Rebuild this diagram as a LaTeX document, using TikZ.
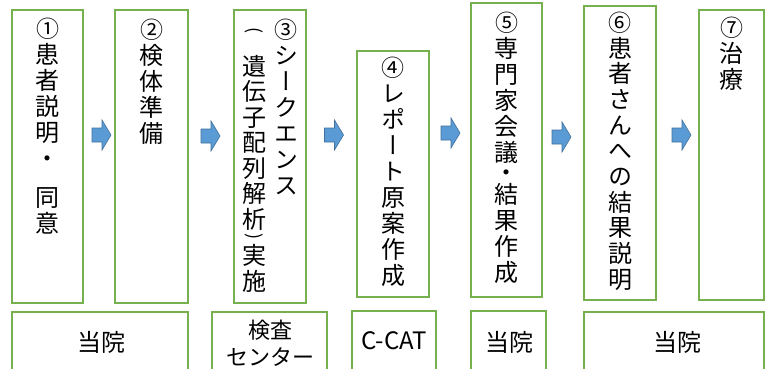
\documentclass[tikz,border=0pt]{standalone}
\usepackage{fontspec}
\newfontfamily\jp{Noto Sans CJK JP}
\newfontfamily\vjp[RawFeature=+vert]{Noto Sans CJK JP}
\definecolor{boxgreen}{HTML}{77B04F}
\definecolor{arrowblue}{HTML}{5B9BD5}
\definecolor{arrowedge}{HTML}{41719C}
\newcommand\fl{\rule{0pt}{21.1pt}}
\newcommand\cn[1]{{\fontsize{23}{23}\selectfont #1}}
\tikzset{
  stage/.style={draw=boxgreen, line width=1.2pt, fill=white, inner sep=0pt},
  place/.style={draw=boxgreen, line width=1.2pt},
  vcol/.style={anchor=north, inner sep=0pt, align=center,
    font=\vjp\fontsize{24}{26}\selectfont},
  vparen/.style={anchor=center, inner sep=0pt, rotate=-90,
    font=\jp\fontsize{18}{18}\selectfont},
  lbl/.style={anchor=center, inner sep=0pt, align=center,
    font=\jp\fontsize{24}{27}\selectfont},
  flow/.pic={\draw[fill=arrowblue, draw=arrowedge, line width=0.6pt]
    (-9.5,-7)--(0.5,-7)--(0.5,-15)--(9.5,0)--(0.5,15)--(0.5,7)--(-9.5,7)--cycle;}
}
\begin{document}
\begin{tikzpicture}[x=1pt,y=-1pt]
\useasboundingbox[fill=white] (0,0) rectangle (768,369);
% stage boxes
\node[stage, minimum width=71pt, minimum height=293pt] (b1) at (47.5,156.5) {};
\node[stage, minimum width=73pt, minimum height=293pt] (b2) at (151.5,156.5) {};
\node[stage, minimum width=72pt, minimum height=293pt] (b3) at (270,156.5) {};
\node[stage, minimum width=72pt, minimum height=246pt] (b4) at (393,174) {};
\node[stage, minimum width=71pt, minimum height=294pt] (b5) at (506.5,150) {};
\node[stage, minimum width=72pt, minimum height=294pt] (b6) at (620,153) {};
\node[stage, minimum width=65pt, minimum height=290pt] (b7) at (731.5,155) {};
% vertical texts
\node[vcol] (c1) at (47.5,16) {\fl\cn{①}\\患\\者\\説\\明\\・\\[13pt]同\\意};
\node[vcol] (c2) at (151.5,17) {\fl\cn{②}\\検\\体\\準\\備};
\node[vcol] (c3r) at (286,17) {\fl\cn{③}\\シ\\ー\\ク\\エ\\ン\\ス};
\node[vparen] (p1) at (254,31) {(};
\node[vcol, font=\vjp\fontsize{24}{25.5}\selectfont] (c3l) at (254,54)
  {\fl 遺\\伝\\子\\配\\列\\解\\析};
\node[vparen] (p2) at (254,237) {)};
\node[vcol] (c3m) at (254,243) {\fl 実\\施};
\node[vcol] (c4) at (393,55) {\fl\cn{④}\\レ\\ポ\\ー\\ト\\原\\案\\作\\成};
\node[vcol] (c5a) at (506.5,10) {\fl\cn{⑤}\\専\\門\\家\\会\\議};
\node[anchor=center, inner sep=0pt, text height=1pt, text depth=0pt,
  font=\vjp\fontsize{24}{26}\selectfont] (c5d) at (506.5,180.5) {・};
\node[vcol] (c5b) at (506.5,182) {\fl 結\\果\\作\\成};
\node[vcol, font=\vjp\fontsize{24}{25.7}\selectfont] (c6) at (620,10)
  {\fl\cn{⑥}\\患\\者\\さ\\ん\\へ\\の\\結\\果\\説\\明};
\node[vcol] (c7) at (731.5,15) {\fl\cn{⑦}\\治\\療};
% arrows
\pic (a1) at (101.5,135) {flow};
\pic (a2) at (210.5,136) {flow};
\pic (a3) at (334,135) {flow};
\pic (a4) at (450.5,133) {flow};
\pic (a5) at (561.5,137) {flow};
\pic (a6) at (681.5,135) {flow};
% place boxes (cut by the lower edge)
\draw[place] (12,369) -- (12,312) -- (188,312) -- (188,369);
\draw[place] (212,369) -- (212,312) -- (327,312) -- (327,369);
\draw[place] (352,369) -- (352,311) -- (436,311) -- (436,369);
\draw[place] (471,369) -- (471,311) -- (546,311) -- (546,369);
\draw[place] (584,369) -- (584,312) -- (764,312) -- (764,369);
\node[lbl] (l1) at (101,342) {当院};
\node[lbl, font=\jp\fontsize{22}{27}\selectfont] (l2) at (270,343.5) {検査\\センター};
\node[lbl] (l3) at (394,341) {C-CAT};
\node[lbl] (l4) at (509,342) {当院};
\node[lbl] (l5) at (677,342) {当院};
\end{tikzpicture}
\end{document}
